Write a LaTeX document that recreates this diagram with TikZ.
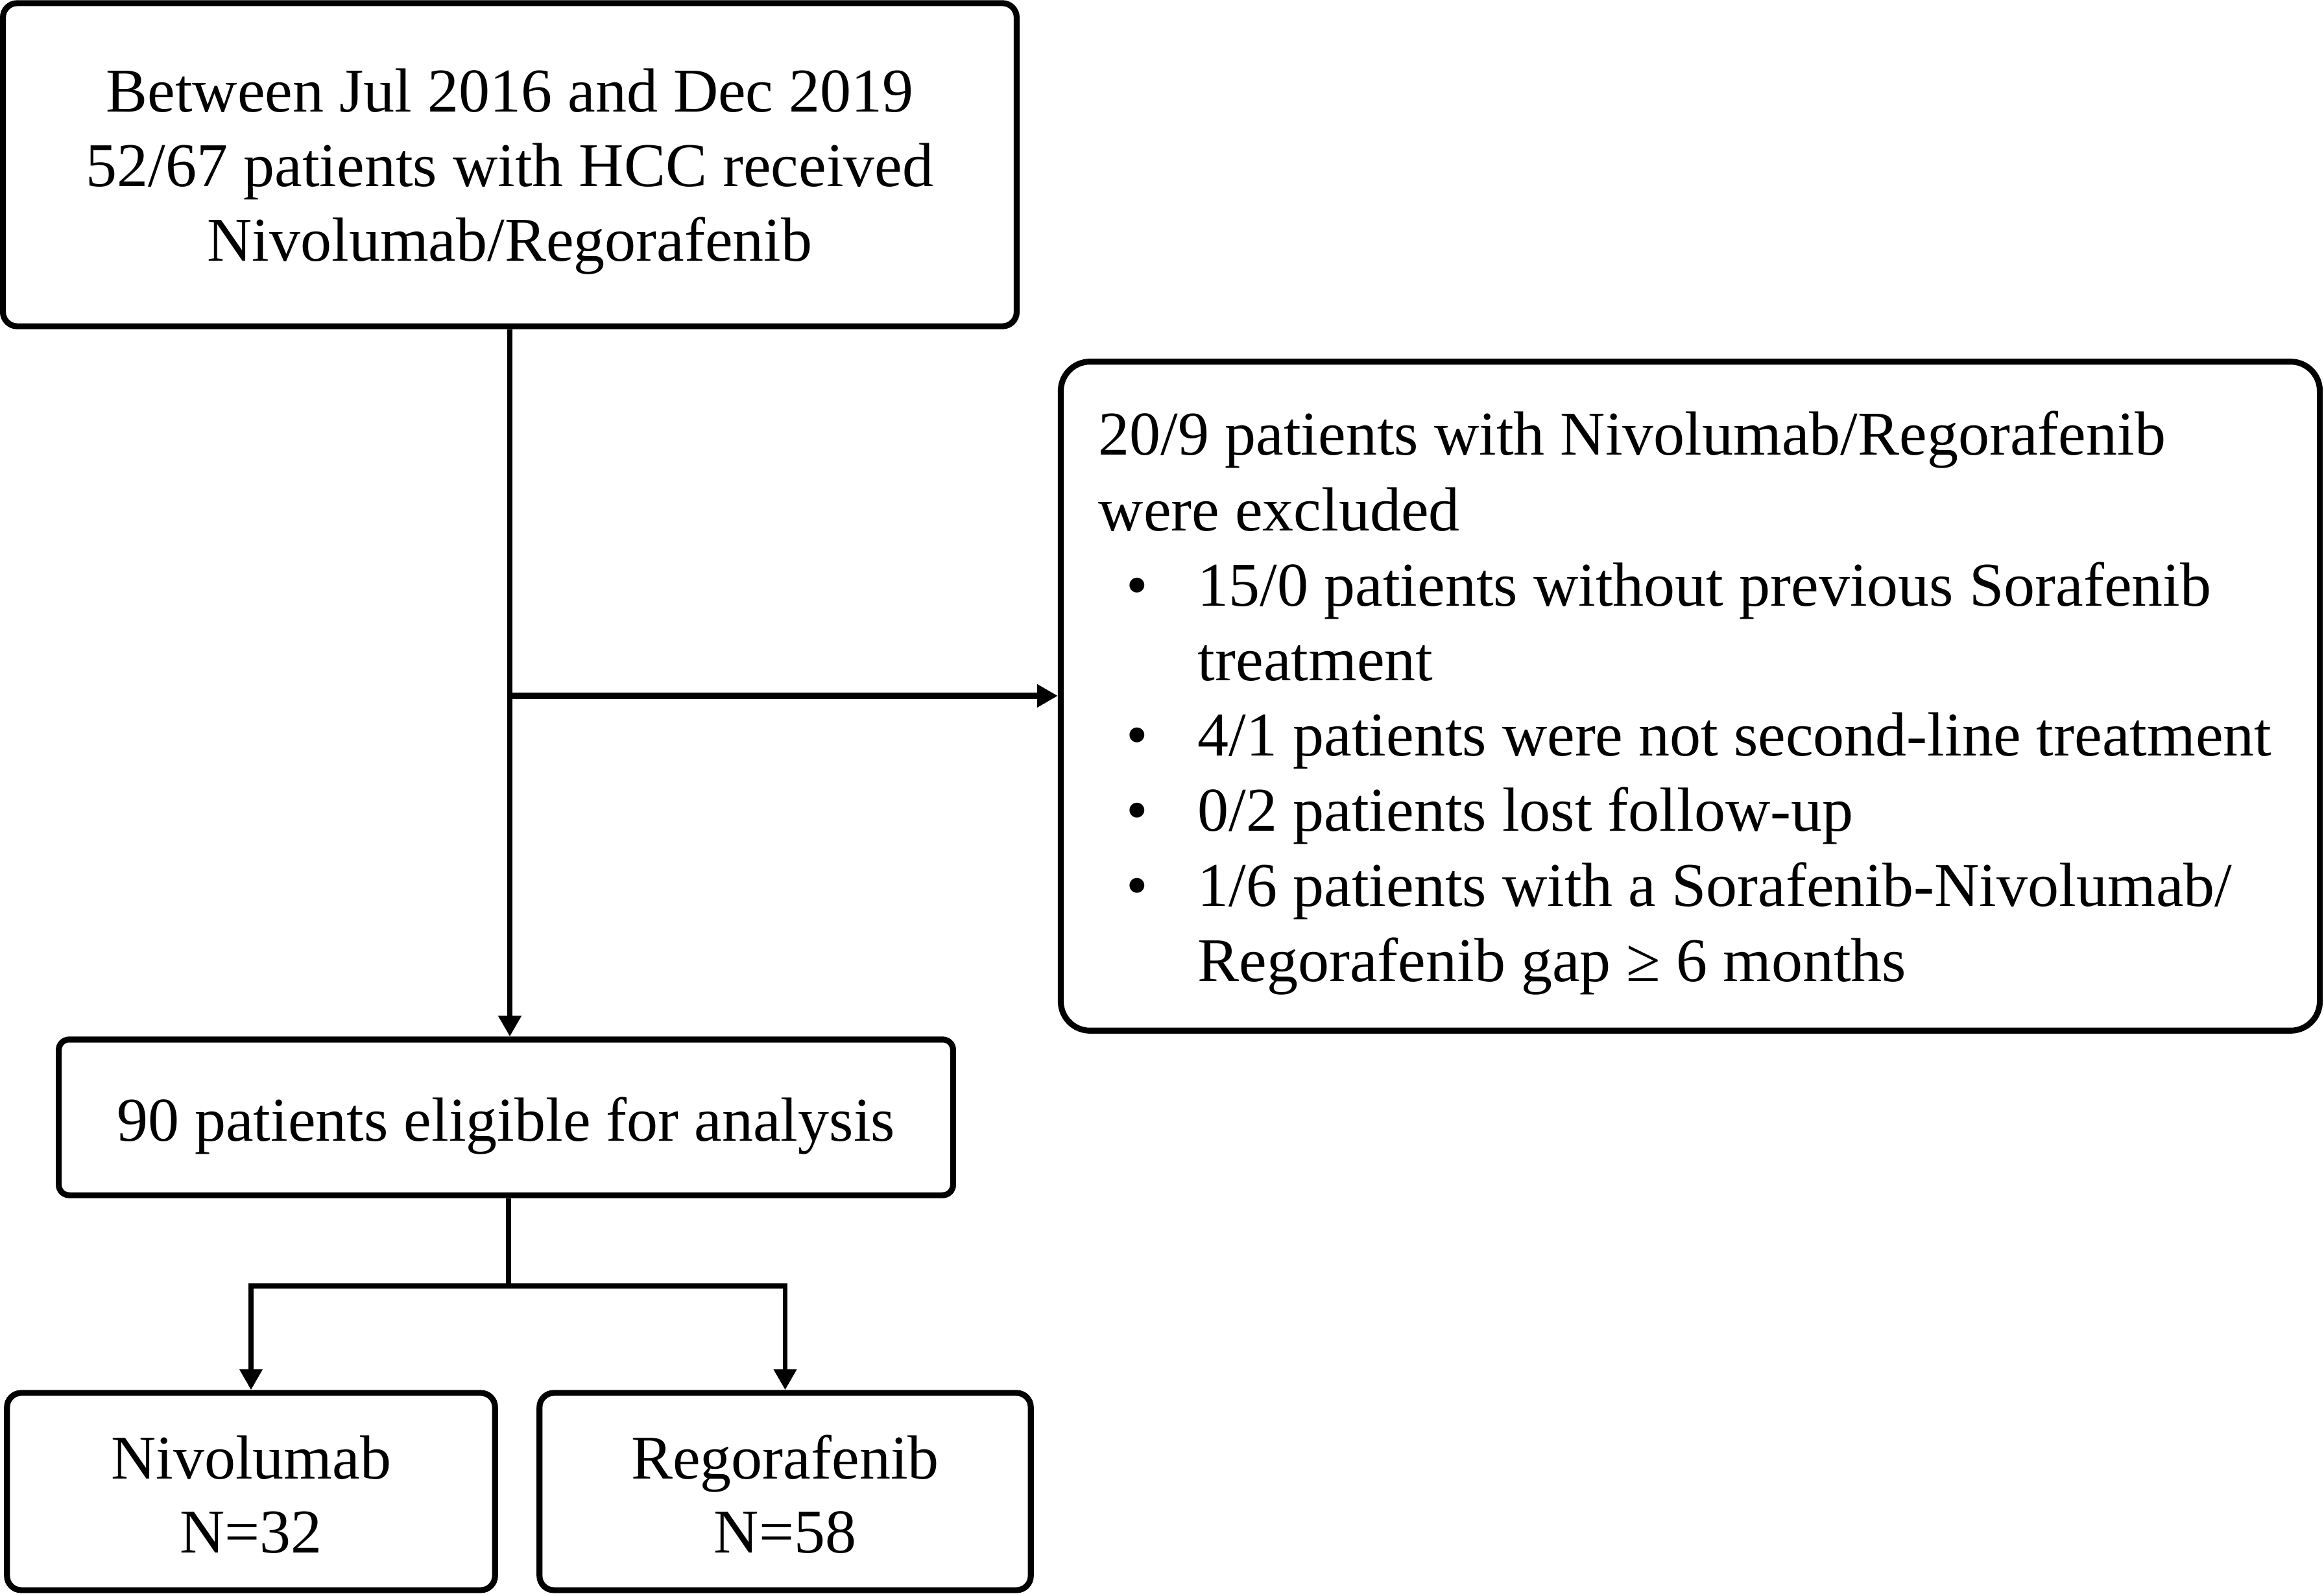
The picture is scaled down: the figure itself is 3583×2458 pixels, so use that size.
\documentclass[tikz,border=0pt]{standalone}
\usepackage{fontspec}
\setmainfont{Liberation Serif}
\usetikzlibrary{arrows.meta}
\tikzset{
  box/.style={draw=black, line width=2.6pt, rounded corners=0.22cm, inner sep=0pt, fill=none},
  bigbox/.style={draw=black, line width=2.6pt, rounded corners=0.45cm, inner sep=0pt},
  txt/.style={inner sep=0pt, font=\fontsize{27.3pt}{32.8pt}\selectfont},
  ctxt/.style={txt, anchor=base},
  ltxt/.style={txt, anchor=base west},
  conn/.style={line width=2.2pt, draw=black},
  arr/.style={-{Triangle[length=0.32cm,width=0.34cm]}},
  arrboth/.style={{Triangle[length=0.32cm,width=0.34cm]}-{Triangle[length=0.32cm,width=0.34cm]}}
}
\begin{document}
\begin{tikzpicture}[x=0.01cm, y=-0.01cm]
\useasboundingbox (0,0) rectangle (3583,2458);
% boxes
\node[box, minimum width=15.62cm, minimum height=4.98cm] (top) at (786,254) {};
\node[bigbox, minimum width=19.40cm, minimum height=10.31cm] (excl) at (2606,1073.5) {};
\node[box, rounded corners=0.16cm, minimum width=13.78cm, minimum height=2.40cm] (elig) at (780,1723) {};
\node[box, minimum width=7.52cm, minimum height=3.04cm] (nivo) at (387,2300) {};
\node[box, minimum width=7.57cm, minimum height=3.04cm] (rego) at (1210.5,2300) {};
% top text
\node[ctxt] (t1) at (786,173) {Between Jul 2016 and Dec 2019};
\node[ctxt] (t2) at (786,288) {52/67 patients with HCC received};
\node[ctxt] (t3) at (786,403) {Nivolumab/Regorafenib};
% exclusion text
\node[ltxt] (e1) at (1693,702) {20/9 patients with Nivolumab/Regorafenib};
\node[ltxt] (e2) at (1693,818) {were excluded};
\node[ctxt] (b1) at (1753,934) {•};
\node[ltxt] (e3) at (1846,934) {15/0 patients without previous Sorafenib};
\node[ltxt] (e4) at (1846,1049) {treatment};
\node[ctxt] (b2) at (1753,1165) {•};
\node[ltxt] (e5) at (1846,1165) {4/1 patients were not second-line treatment};
\node[ctxt] (b3) at (1753,1281) {•};
\node[ltxt] (e6) at (1846,1281) {0/2 patients lost follow-up};
\node[ctxt] (b4) at (1753,1397) {•};
\node[ltxt] (e7) at (1846,1397) {1/6 patients with a Sorafenib-Nivolumab/};
\node[ltxt] (e8) at (1846,1513) {Regorafenib gap ≥ 6 months};
% eligible
\node[ctxt] (g1) at (780,1759) {90 patients eligible for analysis};
% bottom
\node[ctxt] (n1) at (387,2280) {Nivolumab};
\node[ctxt] (n2) at (387,2394) {N=32};
\node[ctxt] (r1) at (1210.5,2280) {Regorafenib};
\node[ctxt] (r2) at (1210.5,2394) {N=58};
% connectors
\coordinate (branch) at (786,1073);
\coordinate (split) at (784,1983);
\draw[conn, arr] (top.south) -- (top.south |- elig.north);
\draw[conn, arr, line width=2.8pt] (branch) -- (branch -| excl.west);
\draw[conn] (elig.south -| split) -- (split);
\draw[conn, arrboth] (nivo.north) -- (nivo.north |- split) -- (rego.north |- split) -- (rego.north);
\end{tikzpicture}
\end{document}
